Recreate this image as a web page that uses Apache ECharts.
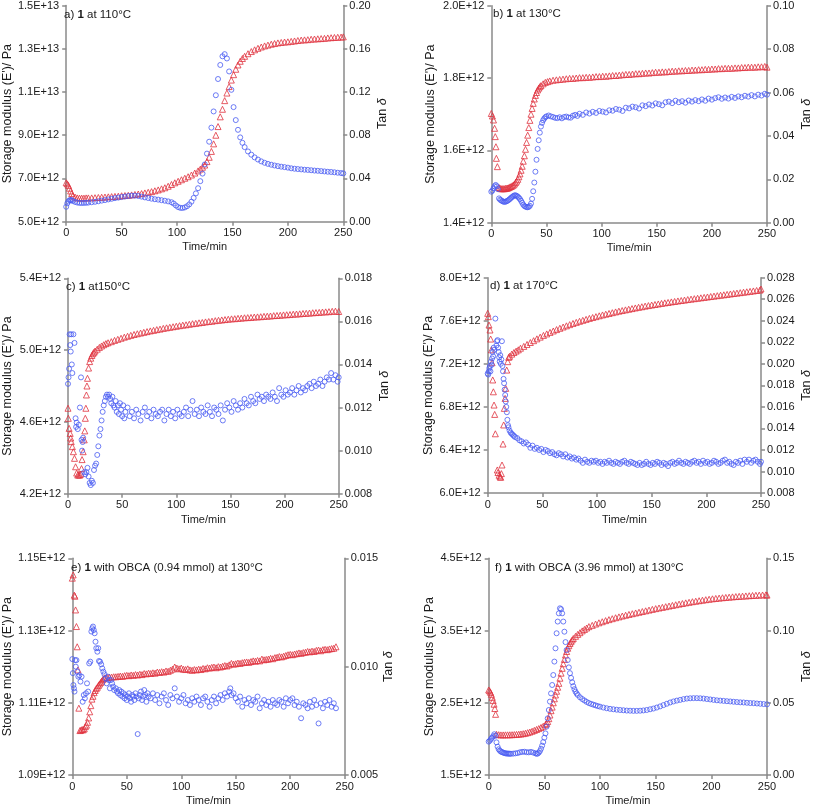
<!DOCTYPE html>
<html><head><meta charset="utf-8">
<script src="https://cdn.jsdelivr.net/npm/echarts@6/dist/echarts.min.js"></script>
<style>html,body{margin:0;padding:0;background:#fff}#c{width:814px;height:807px}</style>
</head><body><div id="c"></div>
<script>
// ---------- DATA (time in min; modulus in units of 1E+12 Pa; tan delta dimensionless) ----------
const X_TICKS = [0, 50, 100, 150, 200, 250];

// a) 1 at 110°C
const A_E_TICKS = [5, 7, 9, 11, 13, 15];
const A_TAN_TICKS = [0, 0.04, 0.08, 0.12, 0.16, 0.20];
const A_MODULUS = [[0,6.80],[1,6.75],[2,6.68],[3,6.55],[4,6.42],[5,6.30],[6,6.20],[8,6.14],[10,6.10],[12,6.09],[14,6.09],[16,6.09],[18,6.10],[20,6.10],[23,6.10],[26,6.11],[29,6.12],[32,6.13],[35,6.14],[38,6.15],[41,6.16],[44,6.17],[47,6.18],[50,6.20],[53,6.21],[56,6.22],[59,6.24],[62,6.26],[65,6.28],[68,6.30],[71,6.33],[74,6.36],[77,6.39],[80,6.43],[83,6.47],[86,6.52],[89,6.57],[92,6.64],[95,6.72],[98,6.80],[101,6.87],[104,6.94],[107,7.01],[110,7.08],[113,7.16],[116,7.25],[119,7.35],[121,7.43],[123,7.52],[125,7.62],[127,7.78],[129,7.98],[131,8.25],[133,8.60],[135,9.00],[137,9.40],[139,9.85],[141,10.20],[143,10.60],[145,10.95],[147,11.25],[149,11.55],[151,11.80],[153,12.05],[155,12.25],[157,12.42],[159,12.55],[161,12.65],[164,12.77],[167,12.87],[170,12.95],[173,13.02],[176,13.08],[179,13.13],[182,13.17],[185,13.21],[188,13.24],[191,13.27],[194,13.29],[197,13.31],[200,13.32],[203,13.34],[206,13.36],[209,13.38],[212,13.40],[215,13.41],[218,13.42],[221,13.44],[224,13.45],[227,13.46],[230,13.47],[233,13.48],[236,13.50],[239,13.51],[242,13.52],[245,13.53],[248,13.54],[250,13.55]];
const A_TAN = [[0,0.0138],[1,0.0170],[2,0.0188],[3,0.0198],[4,0.0201],[5,0.0199],[6,0.0192],[8,0.0183],[10,0.0177],[12,0.0174],[14,0.0173],[16,0.0174],[18,0.0175],[20,0.0177],[23,0.0180],[26,0.0184],[29,0.0189],[32,0.0195],[35,0.0200],[38,0.0206],[41,0.0212],[44,0.0218],[47,0.0223],[50,0.0228],[53,0.0233],[56,0.0238],[59,0.0241],[62,0.0241],[65,0.0238],[68,0.0232],[71,0.0225],[74,0.0219],[77,0.0213],[80,0.0208],[83,0.0204],[86,0.0199],[89,0.0194],[92,0.0188],[95,0.0180],[97,0.0168],[99,0.0150],[101,0.0135],[103,0.0128],[105,0.0127],[107,0.0132],[109,0.0143],[111,0.0160],[113,0.0185],[115,0.0220],[117,0.0262],[119,0.0310],[121,0.0375],[123,0.0445],[125,0.0530],[127,0.0630],[129,0.0740],[131,0.0870],[133,0.1020],[135,0.1170],[137,0.1320],[139,0.1450],[141,0.1530],[143,0.1550],[145,0.1510],[147,0.1390],[149,0.1220],[151,0.1060],[153,0.0940],[155,0.0850],[157,0.0780],[159,0.0730],[161,0.0690],[164,0.0650],[167,0.0620],[170,0.0595],[173,0.0575],[176,0.0558],[179,0.0545],[182,0.0535],[185,0.0527],[188,0.0520],[191,0.0514],[194,0.0509],[197,0.0505],[200,0.0500],[203,0.0494],[206,0.0490],[209,0.0487],[212,0.0484],[215,0.0481],[218,0.0479],[221,0.0476],[224,0.0473],[227,0.0471],[230,0.0468],[233,0.0465],[236,0.0462],[239,0.0460],[242,0.0457],[245,0.0453],[248,0.0450],[250,0.0447]];

// b) 1 at 130°C
const B_E_TICKS = [1.4, 1.6, 1.8, 2.0];
const B_TAN_TICKS = [0, 0.02, 0.04, 0.06, 0.08, 0.10];
const B_MODULUS = [[0,1.702],[1,1.695],[2,1.684],[3,1.661],[3.6,1.638],[4.2,1.610],[4.6,1.578],[5.5,1.555],[7,1.497],[8,1.495],[9,1.494],[10,1.494],[11,1.494],[12,1.494],[13,1.495],[14,1.495],[15,1.496],[16,1.497],[17,1.499],[18,1.500],[19,1.502],[20,1.504],[21,1.507],[22,1.511],[23,1.515],[24,1.520],[25,1.527],[26,1.535],[27,1.545],[28,1.556],[29,1.570],[30,1.585],[31,1.603],[32,1.622],[33,1.642],[34,1.663],[35,1.683],[36,1.700],[37,1.716],[38,1.730],[39,1.742],[40,1.752],[41,1.760],[42,1.767],[43,1.772],[44,1.776],[45,1.779],[47,1.784],[49,1.788],[51,1.790],[53,1.792],[56,1.794],[59,1.795],[62,1.796],[65,1.797],[68,1.798],[71,1.799],[74,1.799],[77,1.800],[80,1.801],[83,1.801],[86,1.802],[89,1.802],[92,1.803],[95,1.804],[98,1.804],[101,1.805],[104,1.805],[107,1.806],[110,1.807],[113,1.807],[116,1.808],[119,1.809],[122,1.810],[125,1.810],[128,1.811],[131,1.812],[134,1.812],[137,1.813],[140,1.814],[143,1.814],[146,1.815],[149,1.816],[152,1.816],[155,1.817],[158,1.817],[161,1.818],[164,1.819],[167,1.819],[170,1.820],[173,1.820],[176,1.821],[179,1.821],[182,1.822],[185,1.822],[188,1.823],[191,1.823],[194,1.824],[197,1.824],[200,1.825],[203,1.825],[206,1.826],[209,1.826],[212,1.827],[215,1.827],[218,1.827],[221,1.828],[224,1.828],[227,1.829],[230,1.829],[233,1.830],[236,1.830],[239,1.830],[242,1.831],[245,1.831],[248,1.832],[250,1.830]];
const B_TAN = [[0,0.0143],[1,0.0148],[2,0.0158],[3,0.0168],[4,0.0174],[5,0.0168],[6,0.0155],[7,0.0112],[8,0.0106],[9,0.0103],[10,0.0099],[11,0.0097],[12,0.0096],[13,0.0097],[14,0.0099],[15,0.0102],[16,0.0106],[17,0.0110],[18,0.0115],[19,0.0119],[20,0.0123],[21,0.0126],[22,0.0126],[23,0.0124],[24,0.0120],[25,0.0115],[26,0.0109],[27,0.0101],[28,0.0092],[29,0.0083],[30,0.0077],[31,0.0074],[32,0.0072],[33,0.0071],[34,0.0073],[35,0.0078],[36,0.0088],[37,0.0110],[38,0.0145],[39,0.0185],[40,0.0235],[41,0.0290],[42,0.0340],[43,0.0380],[44,0.0415],[45,0.0443],[46,0.0460],[47,0.0472],[48,0.0480],[49,0.0486],[50,0.0490],[52,0.0494],[54,0.0490],[56,0.0487],[58,0.0483],[60,0.0482],[62,0.0486],[64,0.0481],[66,0.0487],[68,0.0489],[70,0.0485],[72,0.0484],[74,0.0493],[76,0.0497],[78,0.0492],[80,0.0502],[83,0.0497],[86,0.0508],[89,0.0503],[92,0.0511],[95,0.0506],[98,0.0515],[101,0.0512],[104,0.0508],[107,0.0518],[110,0.0516],[113,0.0524],[116,0.0521],[119,0.0515],[122,0.0530],[125,0.0527],[128,0.0535],[131,0.0532],[134,0.0526],[137,0.0541],[140,0.0537],[143,0.0545],[146,0.0540],[149,0.0550],[152,0.0546],[155,0.0541],[158,0.0555],[161,0.0558],[164,0.0551],[167,0.0562],[170,0.0555],[173,0.0560],[176,0.0553],[179,0.0563],[182,0.0558],[185,0.0565],[188,0.0560],[191,0.0568],[194,0.0562],[197,0.0572],[200,0.0567],[203,0.0574],[206,0.0578],[209,0.0571],[212,0.0577],[215,0.0572],[218,0.0580],[221,0.0575],[224,0.0582],[227,0.0578],[230,0.0585],[233,0.0581],[236,0.0588],[239,0.0582],[242,0.0590],[245,0.0586],[248,0.0594],[250,0.0590]];

// c) 1 at 150°C
const C_E_TICKS = [4.2, 4.6, 5.0, 5.4];
const C_TAN_TICKS = [0.008, 0.010, 0.012, 0.014, 0.016, 0.018];
const C_MODULUS = [[0,4.676],[0.3,4.620],[1,4.564],[2,4.536],[2.5,4.510],[3,4.490],[4,4.462],[5,4.434],[6,4.397],[7,4.350],[8,4.315],[9,4.304],[10,4.304],[11,4.304],[12,4.310],[12.5,4.340],[13,4.390],[14,4.434],[15,4.500],[15.5,4.550],[16,4.620],[16.5,4.676],[17,4.750],[17.5,4.800],[18,4.843],[19,4.900],[20,4.936],[21,4.955],[22,4.970],[23,4.980],[24,4.988],[25,4.995],[27,5.005],[29,5.015],[31,5.023],[33,5.030],[35,5.036],[37,5.041],[40,5.047],[43,5.054],[46,5.060],[49,5.066],[52,5.072],[55,5.077],[58,5.082],[61,5.087],[64,5.091],[67,5.095],[70,5.099],[73,5.103],[76,5.107],[79,5.110],[82,5.114],[85,5.117],[88,5.121],[91,5.124],[94,5.127],[97,5.130],[100,5.133],[103,5.136],[106,5.139],[109,5.141],[112,5.144],[115,5.147],[118,5.149],[121,5.152],[124,5.154],[127,5.157],[130,5.159],[133,5.161],[136,5.164],[139,5.166],[142,5.168],[145,5.170],[148,5.172],[151,5.174],[154,5.175],[157,5.177],[160,5.178],[163,5.180],[166,5.181],[169,5.182],[172,5.184],[175,5.185],[178,5.186],[181,5.188],[184,5.189],[187,5.190],[190,5.192],[193,5.193],[196,5.194],[199,5.196],[202,5.197],[205,5.198],[208,5.200],[211,5.201],[214,5.202],[217,5.204],[220,5.205],[223,5.206],[226,5.208],[229,5.209],[232,5.210],[235,5.212],[238,5.213],[241,5.214],[244,5.216],[247,5.217],[250,5.215]];
const C_TAN = [[0,0.0131],[0.5,0.0134],[1,0.0138],[1.5,0.0154],[2,0.0149],[2.5,0.0146],[3,0.0154],[3.5,0.0140],[4,0.0136],[5,0.0154],[6,0.0150],[7,0.0115],[7.5,0.0111],[8,0.0113],[9,0.0110],[10,0.0112],[11,0.0120],[12,0.0134],[12.5,0.0105],[13,0.0100],[13.5,0.0104],[14,0.0106],[15,0.0090],[16,0.0089],[17,0.0090],[18,0.0092],[19,0.0088],[20,0.0085],[21,0.0084],[22,0.0086],[23,0.0085],[24,0.0091],[25,0.0093],[26,0.0094],[27,0.0098],[28,0.0102],[29,0.0107],[30,0.0110],[31,0.0114],[32,0.0118],[33,0.0121],[34,0.0123],[35,0.0125],[36,0.0126],[37,0.0125],[38,0.0126],[39,0.0124],[40,0.0122],[41,0.0125],[42,0.0121],[43,0.0120],[44,0.0123],[45,0.0118],[46,0.0121],[47,0.0117],[48,0.0122],[49,0.0119],[50,0.0116],[51,0.0121],[52,0.0115],[53,0.0118],[55,0.0120],[57,0.0116],[59,0.0118],[61,0.0115],[63,0.0119],[65,0.0117],[67,0.0114],[69,0.0118],[71,0.0120],[73,0.0116],[75,0.0118],[77,0.0115],[79,0.0119],[81,0.0117],[83,0.0116],[85,0.0118],[87,0.0119],[89,0.0114],[91,0.0117],[93,0.0119],[95,0.0116],[97,0.0118],[99,0.0115],[101,0.0119],[103,0.0117],[105,0.0116],[107,0.0118],[109,0.0120],[111,0.0116],[113,0.0119],[115,0.0123],[117,0.0117],[119,0.0119],[121,0.0116],[123,0.0120],[125,0.0118],[127,0.0117],[129,0.0121],[131,0.0118],[133,0.0116],[135,0.0120],[137,0.0119],[139,0.0117],[141,0.0121],[143,0.0114],[145,0.0119],[147,0.0122],[149,0.0120],[151,0.0118],[153,0.0123],[155,0.0121],[157,0.0119],[159,0.0122],[161,0.0120],[163,0.0124],[165,0.0122],[167,0.0121],[169,0.0125],[171,0.0123],[173,0.0122],[175,0.0126],[177,0.0124],[179,0.0125],[181,0.0123],[183,0.0126],[185,0.0125],[187,0.0124],[189,0.0127],[191,0.0125],[193,0.0123],[195,0.0129],[197,0.0126],[199,0.0125],[201,0.0128],[203,0.0126],[205,0.0127],[207,0.0129],[209,0.0126],[211,0.0128],[213,0.0130],[215,0.0127],[217,0.0129],[219,0.0128],[221,0.0130],[223,0.0131],[225,0.0129],[227,0.0132],[229,0.0130],[231,0.0131],[233,0.0133],[235,0.0130],[237,0.0132],[239,0.0134],[241,0.0133],[243,0.0136],[245,0.0133],[247,0.0135],[249,0.0132],[250,0.0134]];

// d) 1 at 170°C
const D_E_TICKS = [6.0, 6.4, 6.8, 7.2, 7.6, 8.0];
const D_TAN_TICKS = [0.008, 0.010, 0.012, 0.014, 0.016, 0.018, 0.020, 0.022, 0.024, 0.026, 0.028];
const D_MODULUS = [[0,7.669],[0.6,7.638],[1.2,7.560],[2.1,7.514],[2.7,7.430],[3.4,7.330],[4,7.210],[4.6,7.050],[5.2,6.940],[5.8,6.817],[6.4,6.730],[7,6.550],[8.8,6.214],[9.4,6.190],[10.4,6.165],[11.3,6.150],[11.9,6.146],[12.5,6.180],[13.1,6.260],[14,6.455],[14.6,6.632],[15.2,6.786],[15.9,6.879],[16.5,6.972],[17.4,7.142],[18.3,7.220],[19.2,7.260],[20,7.270],[22,7.290],[24,7.305],[26,7.318],[28,7.330],[30,7.345],[33,7.362],[36,7.380],[39,7.398],[42,7.415],[45,7.432],[48,7.448],[51,7.464],[54,7.478],[57,7.492],[60,7.505],[63,7.518],[66,7.530],[69,7.542],[72,7.553],[75,7.564],[78,7.575],[81,7.585],[84,7.595],[87,7.604],[90,7.613],[93,7.622],[96,7.630],[99,7.638],[102,7.646],[105,7.654],[108,7.661],[111,7.668],[114,7.675],[117,7.682],[120,7.689],[123,7.695],[126,7.701],[129,7.707],[132,7.713],[135,7.719],[138,7.725],[141,7.730],[144,7.736],[147,7.741],[150,7.746],[153,7.751],[156,7.756],[159,7.761],[162,7.766],[165,7.770],[168,7.775],[171,7.779],[174,7.784],[177,7.788],[180,7.792],[183,7.797],[186,7.801],[189,7.805],[192,7.809],[195,7.813],[198,7.817],[201,7.821],[204,7.825],[207,7.829],[210,7.833],[213,7.837],[216,7.841],[219,7.845],[222,7.849],[225,7.853],[228,7.857],[231,7.861],[234,7.865],[237,7.869],[240,7.873],[243,7.877],[246,7.881],[249,7.885],[250,7.895]];
const D_TAN = [[0,0.0191],[0.5,0.0190],[1,0.0193],[1.5,0.0196],[2,0.0198],[2.5,0.0193],[3,0.0202],[3.5,0.0199],[4,0.0205],[4.5,0.0211],[5,0.0207],[5.5,0.0215],[6,0.0213],[7,0.0242],[8,0.0217],[8.5,0.0221],[9,0.0222],[9.5,0.0215],[10,0.0211],[10.5,0.0206],[11,0.0202],[11.5,0.0208],[12,0.0200],[12.5,0.0204],[13,0.0221],[13.5,0.0198],[14,0.0193],[14.5,0.0186],[15,0.0182],[15.5,0.0176],[16,0.0171],[16.5,0.0165],[17,0.0160],[17.5,0.0155],[18,0.0148],[18.5,0.0143],[19,0.0141],[20,0.0138],[21,0.0136],[22,0.0135],[23,0.0134],[24,0.0133],[25,0.0132],[27,0.0131],[29,0.0129],[31,0.0128],[33,0.0126],[35,0.0127],[37,0.0125],[39,0.0122],[41,0.0124],[43,0.0121],[45,0.0122],[47,0.0120],[49,0.0121],[51,0.0118],[53,0.0120],[55,0.0119],[57,0.0117],[59,0.0118],[61,0.0116],[63,0.0115],[65,0.0117],[67,0.0116],[69,0.0114],[71,0.0116],[73,0.0113],[75,0.0114],[77,0.0112],[79,0.0113],[81,0.0111],[83,0.0112],[85,0.0110],[87,0.0108],[89,0.0111],[91,0.0109],[93,0.0108],[95,0.0110],[97,0.0109],[99,0.0110],[101,0.0108],[103,0.0109],[105,0.0107],[107,0.0109],[109,0.0108],[111,0.0110],[113,0.0108],[115,0.0107],[117,0.0109],[119,0.0108],[121,0.0107],[123,0.0109],[125,0.0110],[127,0.0108],[129,0.0107],[131,0.0109],[133,0.0108],[135,0.0107],[137,0.0106],[139,0.0108],[141,0.0106],[143,0.0107],[145,0.0109],[147,0.0107],[149,0.0106],[151,0.0108],[153,0.0107],[155,0.0109],[157,0.0108],[159,0.0106],[161,0.0108],[163,0.0107],[165,0.0105],[167,0.0108],[169,0.0109],[171,0.0107],[173,0.0108],[175,0.0110],[177,0.0108],[179,0.0107],[181,0.0109],[183,0.0108],[185,0.0107],[187,0.0109],[189,0.0110],[191,0.0108],[193,0.0109],[195,0.0107],[197,0.0110],[199,0.0108],[201,0.0109],[203,0.0107],[205,0.0108],[207,0.0110],[209,0.0109],[211,0.0107],[213,0.0108],[215,0.0110],[217,0.0111],[219,0.0108],[221,0.0109],[223,0.0107],[225,0.0106],[227,0.0109],[229,0.0108],[231,0.0110],[233,0.0107],[235,0.0111],[237,0.0109],[239,0.0111],[241,0.0108],[243,0.0110],[245,0.0111],[247,0.0109],[249,0.0107],[250,0.0109]];

// e) 1 with OBCA (0.94 mmol) at 130°C
const E_E_TICKS = [1.09, 1.11, 1.13, 1.15];
const E_TAN_TICKS = [0.005, 0.010, 0.015];
const E_MODULUS = [[0,1.1445],[0.8,1.1454],[1.8,1.1398],[2.4,1.1395],[3,1.1357],[3.8,1.1311],[4.5,1.1255],[5.2,1.1191],[6,1.1085],[7,1.1023],[8,1.1024],[9,1.1026],[10,1.1025],[11,1.1028],[12,1.1034],[13,1.1038],[14,1.1046],[15,1.1058],[16,1.1075],[17,1.1092],[18,1.1110],[19,1.1118],[20,1.1128],[21,1.1134],[22,1.1139],[23,1.1143],[24,1.1148],[25,1.1152],[26,1.1156],[27,1.1160],[28,1.1164],[29,1.1167],[30,1.1169],[32,1.1170],[34,1.1171],[36,1.1171],[38,1.1172],[40,1.1172],[42,1.1173],[44,1.1174],[46,1.1173],[48,1.1175],[50,1.1176],[52,1.1175],[54,1.1177],[56,1.1176],[58,1.1178],[60,1.1177],[62,1.1179],[64,1.1178],[66,1.1181],[68,1.1180],[70,1.1182],[72,1.1181],[74,1.1183],[76,1.1182],[78,1.1185],[80,1.1184],[82,1.1186],[84,1.1185],[86,1.1188],[88,1.1187],[90,1.1190],[92,1.1193],[94,1.1199],[96,1.1196],[98,1.1194],[100,1.1196],[102,1.1193],[104,1.1192],[106,1.1194],[108,1.1191],[110,1.1190],[112,1.1192],[114,1.1191],[116,1.1193],[118,1.1192],[120,1.1195],[122,1.1194],[124,1.1197],[126,1.1196],[128,1.1198],[130,1.1199],[132,1.1197],[134,1.1200],[136,1.1199],[138,1.1201],[140,1.1203],[142,1.1202],[144,1.1205],[146,1.1209],[148,1.1207],[150,1.1208],[152,1.1210],[154,1.1209],[156,1.1211],[158,1.1212],[160,1.1213],[162,1.1212],[164,1.1214],[166,1.1216],[168,1.1215],[170,1.1217],[172,1.1216],[174,1.1221],[176,1.1219],[178,1.1220],[180,1.1221],[182,1.1223],[184,1.1222],[186,1.1225],[188,1.1226],[190,1.1228],[192,1.1227],[194,1.1229],[196,1.1231],[198,1.1233],[200,1.1234],[202,1.1233],[204,1.1235],[206,1.1236],[208,1.1238],[210,1.1237],[212,1.1239],[214,1.1240],[216,1.1242],[218,1.1241],[220,1.1243],[222,1.1242],[224,1.1245],[226,1.1246],[228,1.1244],[230,1.1247],[232,1.1248],[234,1.1247],[236,1.1249],[238,1.1250],[240,1.1251],[242,1.1255]];
const E_TAN = [[0,0.01035],[0.5,0.0097],[1,0.00915],[1.5,0.0090],[2,0.00885],[2.6,0.0103],[3.2,0.0100],[3.8,0.0103],[4.5,0.00977],[5.5,0.00954],[6.5,0.0096],[7.5,0.00931],[8.5,0.00954],[9.5,0.00838],[10.5,0.00869],[11.5,0.00854],[12.5,0.00877],[13.5,0.00923],[14.5,0.00885],[15.5,0.01015],[16.5,0.01023],[17.5,0.01162],[18.3,0.01177],[19,0.01185],[19.7,0.01169],[20.5,0.01154],[21.3,0.01115],[22,0.01085],[23,0.01069],[23.8,0.01085],[24.5,0.01026],[25.5,0.01023],[26.5,0.01011],[27.5,0.00992],[28.5,0.00977],[29.5,0.00965],[30.5,0.00946],[31.5,0.00923],[32.5,0.00954],[33.5,0.00938],[34.5,0.0090],[35.5,0.00938],[36.5,0.00923],[37.5,0.00908],[38.5,0.00892],[40,0.0090],[41,0.00885],[42,0.00877],[43,0.00892],[44,0.00869],[45,0.00885],[46,0.00862],[47,0.00877],[48,0.00854],[49,0.00869],[50,0.00846],[51,0.00862],[52,0.00877],[53,0.00854],[54,0.00838],[55,0.00869],[56,0.00862],[57,0.00846],[58,0.00877],[59,0.00862],[60,0.00689],[61,0.00854],[62,0.00869],[63,0.00885],[64,0.00846],[65,0.00862],[66,0.00892],[67,0.00869],[68,0.00838],[69,0.00877],[70,0.00862],[72,0.00854],[74,0.00877],[76,0.00846],[78,0.00869],[80,0.00831],[82,0.00862],[84,0.00877],[86,0.00846],[88,0.00823],[90,0.00869],[92,0.00854],[94,0.0090],[96,0.00862],[98,0.00838],[100,0.00854],[102,0.00869],[104,0.00831],[106,0.00846],[108,0.00823],[110,0.00854],[112,0.00838],[114,0.00862],[116,0.00846],[118,0.00823],[120,0.00854],[122,0.00862],[124,0.00838],[126,0.00815],[128,0.00846],[130,0.00862],[132,0.00831],[134,0.00854],[136,0.00869],[138,0.00846],[140,0.00877],[142,0.00862],[144,0.00885],[145,0.0090],[146,0.00869],[148,0.00877],[150,0.00854],[152,0.00838],[154,0.00862],[156,0.00815],[158,0.00846],[160,0.00831],[162,0.00854],[164,0.00823],[166,0.00846],[168,0.00838],[170,0.00862],[172,0.00808],[174,0.00831],[176,0.00846],[178,0.00823],[180,0.00838],[182,0.00815],[184,0.00846],[186,0.00831],[188,0.00823],[190,0.00846],[192,0.00838],[194,0.00815],[196,0.00854],[198,0.00831],[200,0.00846],[202,0.00854],[204,0.00823],[206,0.00838],[208,0.00815],[210,0.00762],[212,0.00831],[214,0.00823],[216,0.00808],[218,0.00838],[220,0.00815],[222,0.00846],[224,0.00823],[226,0.00738],[228,0.00831],[230,0.00808],[232,0.00838],[234,0.00823],[236,0.00846],[238,0.00815],[240,0.00831],[242,0.00808]];

// f) 1 with OBCA (3.96 mmol) at 130°C
const F_E_TICKS = [1.5, 2.5, 3.5, 4.5];
const F_TAN_TICKS = [0, 0.05, 0.10, 0.15];
const F_MODULUS = [[0,2.677],[0.8,2.665],[1.6,2.645],[2.4,2.617],[3.2,2.575],[4,2.530],[4.8,2.480],[5.5,2.420],[6.2,2.340],[7,2.063],[9,2.058],[11,2.055],[13,2.055],[15,2.056],[17,2.056],[19,2.057],[21,2.058],[23,2.060],[25,2.062],[27,2.065],[29,2.068],[31,2.072],[33,2.078],[35,2.086],[37,2.095],[39,2.106],[41,2.118],[43,2.130],[45,2.143],[47,2.158],[49,2.175],[51,2.198],[52,2.215],[53,2.240],[54,2.280],[55,2.330],[56,2.390],[57,2.440],[58,2.500],[59,2.555],[60,2.608],[61,2.660],[62,2.715],[63,2.769],[64,2.840],[65,2.910],[66,2.977],[67,3.040],[68,3.100],[69,3.161],[70,3.210],[71,3.255],[72,3.290],[73,3.320],[74,3.345],[75,3.369],[76,3.390],[78,3.420],[80,3.447],[82,3.470],[84,3.495],[86,3.515],[88,3.535],[90,3.554],[93,3.572],[96,3.590],[99,3.607],[102,3.622],[105,3.637],[108,3.651],[111,3.664],[114,3.677],[117,3.689],[120,3.701],[123,3.712],[126,3.723],[129,3.733],[132,3.743],[135,3.753],[138,3.763],[141,3.773],[144,3.783],[147,3.793],[150,3.803],[153,3.812],[156,3.821],[159,3.830],[162,3.839],[165,3.848],[168,3.857],[171,3.866],[174,3.874],[177,3.883],[180,3.891],[183,3.899],[186,3.906],[189,3.913],[192,3.920],[195,3.927],[198,3.933],[201,3.939],[204,3.944],[207,3.949],[210,3.954],[213,3.958],[216,3.962],[219,3.966],[222,3.970],[225,3.973],[228,3.976],[231,3.979],[234,3.982],[237,3.985],[240,3.988],[243,3.990],[246,3.992],[249,3.994],[250,3.990]];
const F_TAN = [[0,0.0231],[1,0.0238],[2,0.0249],[3,0.0258],[4,0.0268],[5,0.0282],[6,0.0272],[7,0.0226],[8,0.0196],[9,0.0178],[10,0.0168],[11,0.0162],[12,0.0158],[13,0.0155],[14,0.0152],[15,0.0150],[16,0.0149],[17,0.0148],[18,0.0148],[19,0.0147],[20,0.0147],[22,0.0148],[24,0.0150],[26,0.0152],[28,0.0157],[30,0.0160],[32,0.0161],[34,0.0158],[36,0.0157],[38,0.0160],[40,0.0155],[42,0.0150],[43,0.0147],[44,0.0148],[45,0.0155],[46,0.0166],[47,0.0182],[48,0.0203],[49,0.0228],[50,0.0258],[51,0.0288],[52,0.0335],[53,0.0392],[54,0.0450],[55,0.0508],[56,0.0565],[57,0.0623],[58,0.0692],[59,0.0785],[60,0.0877],[61,0.0981],[62,0.1062],[63,0.1119],[64,0.1154],[65,0.1148],[66,0.1119],[67,0.1062],[68,0.0992],[69,0.0920],[70,0.0865],[71,0.0796],[72,0.0745],[73,0.0705],[74,0.0672],[75,0.0642],[76,0.0615],[77,0.0594],[78,0.0577],[79,0.0564],[80,0.0554],[82,0.0538],[84,0.0526],[86,0.0516],[88,0.0506],[90,0.0498],[92,0.0492],[94,0.0487],[96,0.0482],[98,0.0477],[100,0.0473],[103,0.0467],[106,0.0462],[109,0.0458],[112,0.0455],[115,0.0452],[118,0.0450],[121,0.0448],[124,0.0446],[127,0.0445],[130,0.0444],[133,0.0444],[136,0.0445],[139,0.0447],[142,0.0450],[145,0.0455],[148,0.0460],[151,0.0467],[154,0.0475],[157,0.0484],[160,0.0493],[163,0.0502],[166,0.0509],[169,0.0515],[172,0.0520],[175,0.0525],[178,0.0529],[181,0.0531],[184,0.0532],[187,0.0532],[190,0.0531],[193,0.0529],[196,0.0526],[199,0.0523],[202,0.0520],[205,0.0517],[208,0.0515],[211,0.0513],[214,0.0511],[217,0.0509],[220,0.0507],[223,0.0505],[226,0.0503],[229,0.0502],[232,0.0500],[235,0.0498],[238,0.0497],[241,0.0495],[244,0.0493],[247,0.0491],[250,0.0489]];

// ---------- LAYOUT / STYLE ----------
const FONT = '"Liberation Sans", Arial, sans-serif';
const TEXT = '#1a1a1a';
const AXIS = '#8a8a8a';
const RED = '#e0323e';
const BLUE = '#4a5cf2';
const E_SCALE = 1e12;

const PANELS = [
  {title:['a) ','1',' at 110°C'], box:[62.3,5,281,216.7], tpos:[64,9], eTicks:A_E_TICKS, tTicks:A_TAN_TICKS, eDec:1, tDec:2, mod:A_MODULUS, tan:A_TAN, lg:50, rg:33, xg:20},
  {title:['b) ','1',' at 130°C'], box:[491.3,5.7,278.7,217], tpos:[493,8], eTicks:B_E_TICKS, tTicks:B_TAN_TICKS, eDec:1, tDec:2, mod:B_MODULUS, tan:B_TAN, lg:54, rg:33, xg:20},
  {title:['c) ','1',' at150°C'], box:[65.3,278.3,273.4,215.4], tpos:[66,281], eTicks:C_E_TICKS, tTicks:C_TAN_TICKS, eDec:1, tDec:3, mod:C_MODULUS, tan:C_TAN, lg:54, rg:39, xg:21},
  {title:['d) ','1',' at 170°C'], box:[487.7,277.7,273.3,215.3], tpos:[490,280], eTicks:D_E_TICKS, tTicks:D_TAN_TICKS, eDec:1, tDec:3, mod:D_MODULUS, tan:D_TAN, lg:51, rg:39, xg:21},
  {title:['e) ','1',' with OBCA (0.94 mmol) at 130°C'], box:[68.7,558.3,276,216.7], tpos:[71,562], eTicks:E_E_TICKS, tTicks:E_TAN_TICKS, eDec:2, tDec:3, mod:E_MODULUS, tan:E_TAN, lg:58, rg:34, xg:20},
  {title:['f) ','1',' with OBCA (3.96 mmol) at 130°C'], box:[488.7,558.3,281.3,216.7], tpos:[495,562], eTicks:F_E_TICKS, tTicks:F_TAN_TICKS, eDec:1, tDec:2, mod:F_MODULUS, tan:F_TAN, lg:52, rg:33, xg:20}
];

const option = {animation:false, backgroundColor:'#fff', title:[], grid:[], xAxis:[], yAxis:[], series:[]};
const lineStyle = {color:AXIS, width:1.5};
const labelBase = {color:TEXT, fontSize:11, fontFamily:FONT};

PANELS.forEach((p, i) => {
  option.grid.push({left:p.box[0], top:p.box[1], width:p.box[2], height:p.box[3]});
  option.title.push({
    left:p.tpos[0], top:p.tpos[1], padding:0,
    text:'{n|' + p.title[0] + '}{b|' + p.title[1] + '}{n|' + p.title[2] + '}',
    textStyle:{fontWeight:'normal', fontSize:11.5, fontFamily:FONT, color:TEXT,
      rich:{n:{fontSize:11.5, fontFamily:FONT, color:TEXT, fontWeight:'normal'}, b:{fontSize:11.5, fontFamily:FONT, color:TEXT, fontWeight:'bold'}}}
  });
  option.xAxis.push({
    type:'value', gridIndex:i, min:X_TICKS[0], max:X_TICKS[X_TICKS.length-1],
    axisLine:{show:true, onZero:false, lineStyle},
    axisTick:{show:true, inside:false, length:4, lineStyle, customValues:X_TICKS},
    axisLabel:Object.assign({margin:6, customValues:X_TICKS, formatter:v => String(v)}, labelBase),
    splitLine:{show:false},
    name:'Time/min', nameLocation:'middle', nameGap:p.xg,
    nameTextStyle:{color:TEXT, fontSize:11, fontFamily:FONT}
  });
  const eVals = p.eTicks.map(v => v * E_SCALE);
  option.yAxis.push({
    type:'value', gridIndex:i, position:'left', min:eVals[0], max:eVals[eVals.length-1],
    axisLine:{show:true, onZero:false, lineStyle},
    axisTick:{show:true, inside:false, length:4, lineStyle, customValues:eVals},
    axisLabel:Object.assign({margin:7, customValues:eVals, formatter:v => v.toExponential(p.eDec).toUpperCase()}, labelBase),
    splitLine:{show:false},
    name:"Storage modulus (E')/ Pa", nameLocation:'middle', nameRotate:90, nameGap:p.lg,
    nameTextStyle:{color:TEXT, fontSize:12.5, fontFamily:FONT}
  });
  option.yAxis.push({
    type:'value', gridIndex:i, position:'right', min:p.tTicks[0], max:p.tTicks[p.tTicks.length-1],
    axisLine:{show:true, onZero:false, lineStyle},
    axisTick:{show:true, inside:false, length:4, lineStyle, customValues:p.tTicks},
    axisLabel:Object.assign({margin:6, customValues:p.tTicks, formatter:v => v.toFixed(p.tDec)}, labelBase),
    splitLine:{show:false},
    name:'{n|Tan }{i|δ}', nameLocation:'middle', nameRotate:90, nameGap:p.rg,
    nameTextStyle:{color:TEXT, fontSize:12.5, fontFamily:FONT, rich:{n:{fontSize:12.5, fontFamily:FONT, color:TEXT}, i:{fontSize:12.5, fontFamily:FONT, color:TEXT, fontStyle:'italic'}}}
  });
  option.series.push({
    type:'scatter', name:"E'", xAxisIndex:i, yAxisIndex:2*i,
    data:p.mod.map(d => [d[0], d[1] * E_SCALE]),
    symbol:'triangle', symbolSize:6,
    itemStyle:{color:'rgba(0,0,0,0)', borderColor:RED, borderWidth:1}, emphasis:{disabled:true}
  });
  option.series.push({
    type:'scatter', name:'Tan δ', xAxisIndex:i, yAxisIndex:2*i+1,
    data:p.tan.map(d => [d[0], d[1]]),
    symbol:'circle', symbolSize:5,
    itemStyle:{color:'rgba(0,0,0,0)', borderColor:BLUE, borderWidth:1}, emphasis:{disabled:true}
  });
});

const chart = echarts.init(document.getElementById('c'), null, {renderer:'canvas'});
chart.setOption(option);
</script></body></html>
